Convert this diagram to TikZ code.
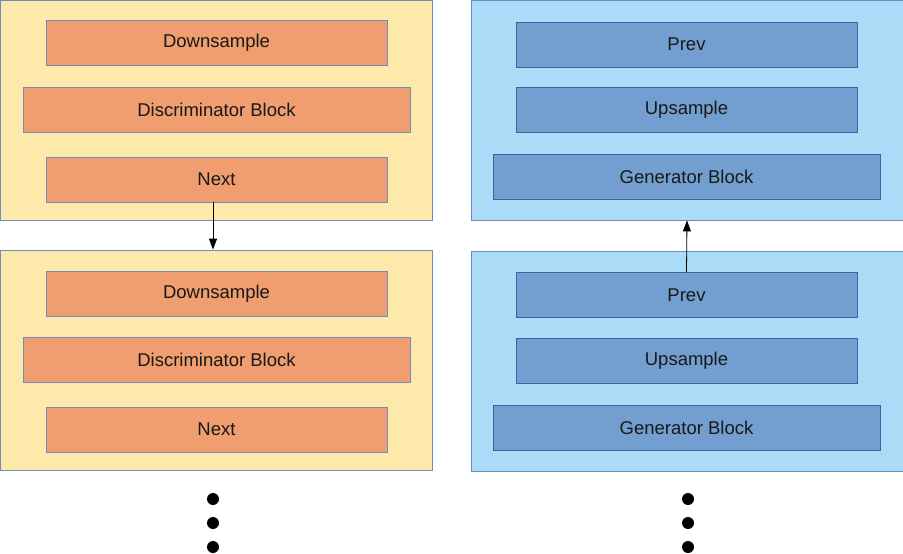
\documentclass[tikz,border=0pt]{standalone}
\usepackage{fontspec}
\setmainfont{Liberation Sans}
\usetikzlibrary{shapes.geometric, arrows, arrows.meta}
\definecolor{sandfill}{HTML}{FDE9AA}
\definecolor{skyfill}{HTML}{ABDCF7}
\definecolor{peachfill}{HTML}{F09E6F}
\definecolor{steelfill}{HTML}{729FCF}
\definecolor{edgeblue}{HTML}{6C8EBF}
\definecolor{darkedge}{HTML}{3465A4}
\tikzstyle{outer}=[rectangle,minimum width=432pt,minimum height=220pt,inner sep=0,line width=0.8pt,draw=edgeblue]
\tikzstyle{discout}=[outer,fill=sandfill]
\tikzstyle{genout}=[outer,fill=skyfill]
\tikzstyle{layer}=[rectangle,minimum height=45pt,inner sep=0,text centered,line width=0.8pt,text=black!90,font=\fontsize{18.5}{22}\selectfont]
\tikzstyle{disclayer}=[layer,fill=peachfill,draw=edgeblue]
\tikzstyle{genlayer}=[layer,fill=steelfill,draw=darkedge]
\tikzstyle{arrow}=[line width=0.8pt,->,>={Stealth[length=11pt,width=8pt,inset=0pt]}]
\tikzstyle{moredot}=[shape=circle,minimum size=12pt,inner sep=0,fill=black]
\begin{document}
\begin{tikzpicture}[x=1pt,y=-1pt]
\useasboundingbox (0,0) rectangle (903,554);

% discriminator side
\node[discout] (discA) at (216,110) {};
\node[discout] (discB) at (216,360) {};
\node[disclayer,minimum width=341pt] (downA) at (216.5,42.5) {Downsample};
\node[disclayer,minimum width=387pt] (dblockA) at (216.5,110) {Discriminator Block};
\node[disclayer,minimum width=341pt] (nextA) at (216.5,179.5) {Next};
\node[disclayer,minimum width=341pt] (downB) at (216.5,293.5) {Downsample};
\node[disclayer,minimum width=387pt] (dblockB) at (216.5,360) {Discriminator Block};
\node[disclayer,minimum width=341pt] (nextB) at (216.5,429.5) {Next};

% generator side
\node[genout] (genA) at (687,110) {};
\node[genout] (genB) at (687,361) {};
\node[genlayer,minimum width=341pt] (prevA) at (686.5,44.5) {Prev};
\node[genlayer,minimum width=341pt] (upA) at (686.5,110) {Upsample};
\node[genlayer,minimum width=387pt] (gblockA) at (686.5,177) {Generator Block};
\node[genlayer,minimum width=341pt] (prevB) at (686.5,295) {Prev};
\node[genlayer,minimum width=341pt] (upB) at (686.5,360.5) {Upsample};
\node[genlayer,minimum width=387pt] (gblockB) at (686.5,427.5) {Generator Block};

\draw[arrow] ([xshift=-3.5pt]nextA.south) -- ([xshift=-3.5pt]nextA.south |- discB.north);
\draw[arrow] (prevB.north) -- (genA.south);

\foreach \y in {499,523,547}{
	\node[moredot] (dl\y) at (213,\y) {};
	\node[moredot] (dr\y) at (688,\y) {};
	}
\end{tikzpicture}
\end{document}
